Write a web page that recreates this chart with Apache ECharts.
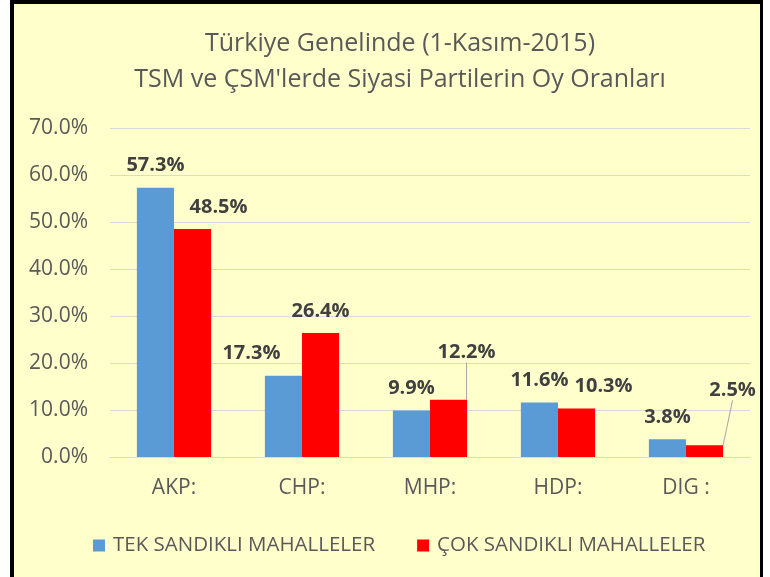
<!DOCTYPE html>
<html>
<head>
<meta charset="utf-8">
<script src="https://cdn.jsdelivr.net/npm/echarts@6/dist/echarts.min.js"></script>
<style>
html,body{margin:0;padding:0;background:#fff;}
#frame{position:absolute;left:10px;top:0;width:753px;height:577px;border-left:4px solid #000;border-top:4px solid #000;border-right:3px solid #000;background:#FFFFCC;box-sizing:border-box;}
#chart{position:absolute;left:0;top:0;width:770px;height:577px;}
</style>
</head>
<body>
<div id="frame"></div>
<div id="chart"></div>
<script>
const titleLines = ["Türkiye Genelinde (1-Kasım-2015)", "TSM ve ÇSM'lerde Siyasi Partilerin Oy Oranları"];
const categories = ["AKP:", "CHP:", "MHP:", "HDP:", "DIG :"];
const seriesNames = ["TEK SANDIKLI MAHALLELER", "ÇOK SANDIKLI MAHALLELER"];
const tekValues = [57.3, 17.3, 9.9, 11.6, 3.8];
const cokValues = [48.5, 26.4, 12.2, 10.3, 2.5];
const yTicks = [0, 10, 20, 30, 40, 50, 60, 70];

// label placement tweaks (style only)
const tekLabelShift = [[0,0],[-32,0],[0,0],[0,0],[0,0]];
const cokLabelShift = [[26,0],[0,0],[18,-25],[27,0],[28,-33]];
const cokLeader = [false,false,true,false,true];

const FONT = 'Open Sans';
const chart = echarts.init(document.getElementById('chart'), null, {renderer:'canvas'});

function fmt(v){ return v.toFixed(1) + '%'; }

const labelBase = {
  show: true, position: 'top', distance: 12,
  fontFamily: FONT, fontSize: 20, fontWeight: 'bold', color: '#404040',
  formatter: p => fmt(p.value)
};

function layoutFor(shift){
  return function(p){
    const s = shift[p.dataIndex];
    return {dx: s[0], dy: s[1]};
  };
}

chart.setOption({
  backgroundColor: 'transparent',
  textStyle: {fontFamily: FONT},
  title: {
    text: titleLines.join('\n'),
    left: 395, top: 21, textAlign: 'center',
    textStyle: {fontFamily: FONT, fontSize: 25, fontWeight: 'normal', color: '#595959', lineHeight: 36}
  },
  legend: {
    left: 88, top: 530,
    itemWidth: 12, itemHeight: 12, itemGap: 42,
    icon: 'rect',
    textStyle: {fontFamily: FONT, fontSize: 20.5, color: '#595959', padding: [0,0,0,3]},
    data: seriesNames
  },
  grid: {left: 110, right: 20, top: 128, bottom: 120, containLabel: false},
  xAxis: {
    type: 'category', data: categories,
    axisLine: {lineStyle: {color: '#D9D9D9'}},
    axisTick: {show: false},
    axisLabel: {fontFamily: FONT, fontSize: 21, color: '#595959', margin: 21}
  },
  yAxis: {
    type: 'value', min: yTicks[0], max: yTicks[yTicks.length-1], interval: 10,
    axisLine: {show: false}, axisTick: {show: false},
    splitLine: {lineStyle: {color: '#D9D9D9', width: 1}},
    axisLabel: {fontFamily: FONT, fontSize: 21, color: '#595959', margin: 22, formatter: v => fmt(v)}
  },
  series: [
    {
      name: seriesNames[0], type: 'bar', data: tekValues,
      barGap: '0%', barCategoryGap: '42%',
      itemStyle: {color: '#5B9BD5'},
      label: labelBase,
      labelLayout: layoutFor(tekLabelShift)
    },
    {
      name: seriesNames[1], type: 'bar',
      data: cokValues.map((v,i) => ({value: v, labelLine: {show: cokLeader[i]}})),
      itemStyle: {color: '#FF0000'},
      label: labelBase,
      labelLine: {show: false, lineStyle: {color: '#A6A6A6', width: 1}},
      labelLayout: layoutFor(cokLabelShift)
    }
  ]
});
</script>
</body>
</html>
